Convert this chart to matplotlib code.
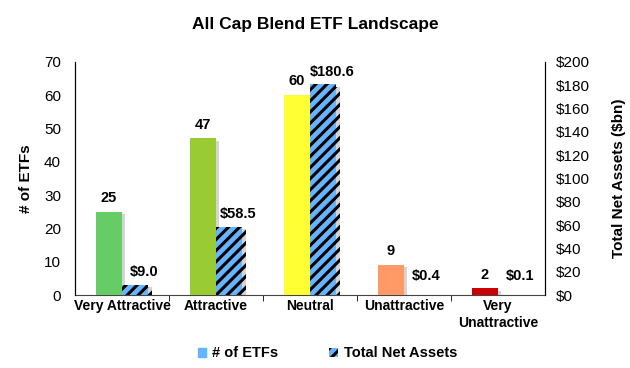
import matplotlib
matplotlib.use("Agg")
import matplotlib.pyplot as plt
import matplotlib.patheffects as pe
import numpy as np

plt.rcParams['font.family'] = ['Liberation Sans', 'DejaVu Sans']
plt.rcParams['hatch.linewidth'] = 2.2

categories = ["Very Attractive", "Attractive", "Neutral", "Unattractive", "Very\nUnattractive"]
num_etfs = [25, 47, 60, 9, 2]
net_assets = [9.0, 58.5, 180.6, 0.4, 0.1]
etf_labels = ["25", "47", "60", "9", "2"]
asset_labels = ["$9.0", "$58.5", "$180.6", "$0.4", "$0.1"]
bar_colors = ["#66CC66", "#99CC33", "#FFFF33", "#FF9966", "#CC0000"]

fig = plt.figure(figsize=(6.3, 3.68), dpi=100)
ax = fig.add_axes([0.119, 0.198, 0.746, 0.634])
ax2 = ax.twinx()

x = np.arange(len(categories))
w = 0.28
shadow = [pe.SimplePatchShadow(offset=(2.5, -1.5), shadow_rgbFace="#aaaaaa", alpha=0.5), pe.Normal()]

b1 = ax.bar(x - w / 2, num_etfs, w, color=bar_colors, zorder=3, path_effects=shadow)
b2 = ax2.bar(x + w / 2, net_assets, w, color="#66B3FF", edgecolor="black", linewidth=0,
             hatch="///", zorder=3, path_effects=shadow)

for xi, v, t in zip(x, num_etfs, etf_labels):
    ax.annotate(t, (xi - w / 2, v), xytext=(0, 5), textcoords="offset points",
                ha="center", va="bottom", fontsize=10.5, fontweight="bold")
for xi, v, t in zip(x, net_assets, asset_labels):
    ax2.annotate(t, (xi + w / 2 + 0.1, max(v, 6)), xytext=(0, 4), textcoords="offset points",
                 ha="center", va="bottom", fontsize=10.5, fontweight="bold")

ax.set_xlim(-0.5, len(categories) - 0.5)
ax.set_ylim(0, 70)
ax.set_yticks(range(0, 71, 10))
ax2.set_ylim(0, 200)
ax2.set_yticks(range(0, 201, 20))
ax2.set_yticklabels(["$%d" % v for v in range(0, 201, 20)])

ax.set_xticks(x)
ax.set_xticklabels(categories, fontsize=10, fontweight="bold")
ax.set_xticks(np.arange(0.5, len(categories) - 0.5, 1), minor=True)
ax.tick_params(axis="x", which="major", length=0, pad=3)
ax.tick_params(axis="x", which="minor", length=4, direction="out")
ax.tick_params(axis="y", length=0, labelsize=11, pad=10)
ax2.tick_params(axis="y", length=0, labelsize=11, pad=8)

ax.set_ylabel("# of ETFs", fontsize=11, fontweight="bold", labelpad=8)
ax2.set_ylabel("Total Net Assets ($bn)", fontsize=11, fontweight="bold", labelpad=16)

for a in (ax, ax2):
    a.spines["top"].set_visible(False)
ax2.spines["bottom"].set_visible(False)
ax.spines["bottom"].set_color("#444444")

fig.suptitle("All Cap Blend ETF Landscape", fontsize=12.5, fontweight="bold", y=0.955)

h1 = plt.Rectangle((0, 0), 1, 1, color="#66B3FF")
h2 = plt.Rectangle((0, 0), 1, 1, facecolor="#66B3FF", edgecolor="black", linewidth=0, hatch="///")
fig.legend([h1, h2], ["# of ETFs", "Total Net Assets"], loc="lower center",
           bbox_to_anchor=(0.52, -0.015), ncol=2, frameon=False, handlelength=0.6,
           handleheight=0.6, columnspacing=3.5, handletextpad=0.4,
           prop={"weight": "bold", "size": 10.5})

fig.savefig("out.png", dpi=100)
